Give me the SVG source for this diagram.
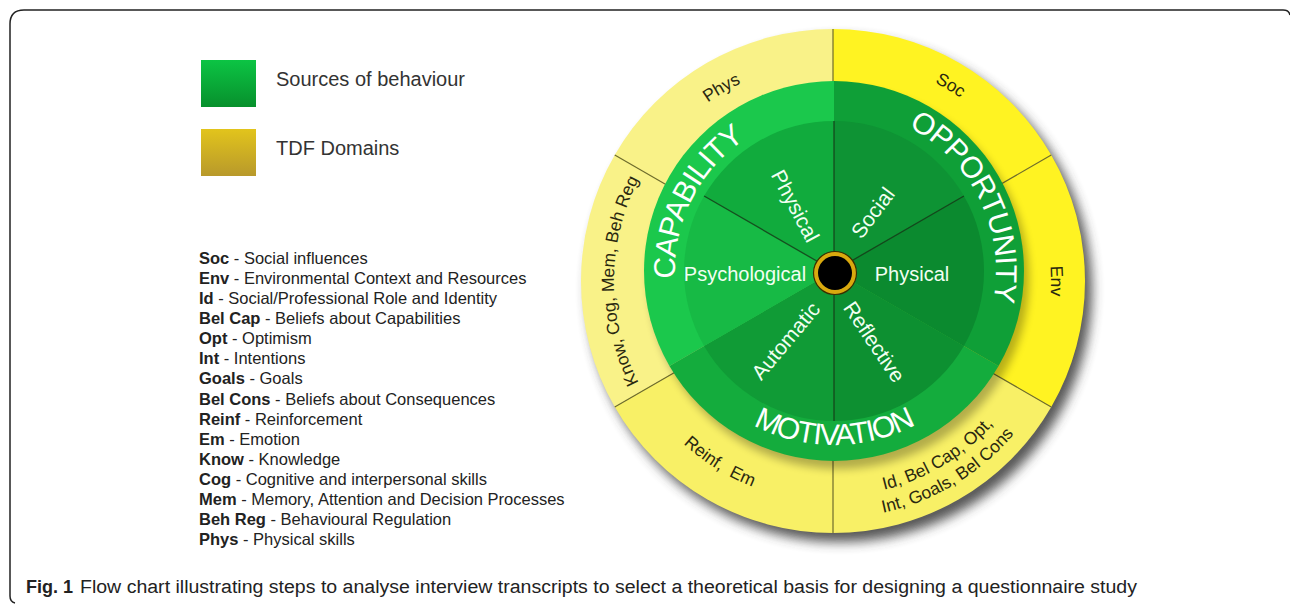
<svg xmlns="http://www.w3.org/2000/svg" width="1290" height="605" viewBox="0 0 1290 605">
<defs>
<style>
.leg{font-family:"Liberation Sans",Arial,sans-serif;font-size:16.5px;fill:#222}
.b{font-weight:bold}
.lg{font-family:"Liberation Sans",Arial,sans-serif;font-size:20px;fill:#333}
.big{font-family:"Liberation Sans",Arial,sans-serif;font-size:30px;fill:#fff}
.in{font-family:"Liberation Sans",Arial,sans-serif;font-size:20px;fill:#f2fff2}
.inr{font-family:"Liberation Sans",Arial,sans-serif;font-size:21px;fill:#f2fff2}
.ylab{font-family:"Liberation Sans",Arial,sans-serif;font-size:17.5px;fill:#2a2810}
.ydiv{stroke:#6e6c2c;stroke-width:1.2}
.gdiv{stroke:#173517;stroke-width:1.3;stroke-opacity:0.8}
.cap{font-family:"Liberation Sans",Arial,sans-serif;font-size:18px;fill:#222}
</style>
<filter id="blur" x="-20%" y="-20%" width="140%" height="140%"><feGaussianBlur stdDeviation="6"/></filter>
<filter id="blur2" x="-20%" y="-20%" width="140%" height="140%"><feGaussianBlur stdDeviation="4"/></filter>
<linearGradient id="gGreen" x1="0" y1="0" x2="0" y2="1"><stop offset="0" stop-color="#0CC444"/><stop offset="1" stop-color="#07902C"/></linearGradient>
<linearGradient id="gGold" x1="0" y1="0" x2="0" y2="1"><stop offset="0" stop-color="#E2C41C"/><stop offset="1" stop-color="#B8992B"/></linearGradient>
<path id="pCap" d="M701.4,358.75 A159,159 0 0 1 824.3,112.3"/>
<path id="pOpp" d="M845.3,109.4 A162,162 0 0 1 968.3,361.6"/>
<path id="pMot" d="M683.3,358 A174,174 0 0 0 984.7,358"/>
<path id="pPhys" d="M615,281 A218,218 0 0 1 942,92.2"/>
<path id="pSoc" d="M724.9,86 A223,223 0 0 1 1056,284.9"/>
<path id="pEnv" d="M942,92.2 A218,218 0 0 1 942,469.8"/>
<path id="pKnow" d="M723.5,470.7 A219,219 0 0 1 723.5,91.3"/>
<path id="pReinf" d="M612.1,273.3 A221,221 0 0 0 936.8,476.1"/>
<path id="pId1" d="M728.8,469 A215,215 0 0 0 1048,277.2"/>
<path id="pId2" d="M718.1,488.3 A237,237 0 0 0 1070,276.9"/>
</defs>
<rect width="1290" height="605" fill="#fff"/>
<path d="M1290,15 Q1289,10 1283,10 L24,10 Q10,10 10,24 L10,596 Q10,602 15,603" fill="none" stroke="#222" stroke-width="1.5"/>

<g id="legend">
<rect x="201" y="60" width="55" height="47" fill="url(#gGreen)"/>
<text class="lg" x="276" y="86">Sources of behaviour</text>
<rect x="201" y="129" width="55" height="47" fill="url(#gGold)"/>
<text class="lg" x="276" y="155">TDF Domains</text>
<g class="leg">
<text x="199" y="264"><tspan class="b">Soc</tspan> - Social influences</text>
<text x="199" y="284.1"><tspan class="b">Env</tspan> - Environmental Context and Resources</text>
<text x="199" y="304.1"><tspan class="b">Id</tspan> - Social/Professional Role and Identity</text>
<text x="199" y="324.2"><tspan class="b">Bel Cap</tspan> - Beliefs about Capabilities</text>
<text x="199" y="344.3"><tspan class="b">Opt</tspan> - Optimism</text>
<text x="199" y="364.4"><tspan class="b">Int</tspan> - Intentions</text>
<text x="199" y="384.4"><tspan class="b">Goals</tspan> - Goals</text>
<text x="199" y="404.5"><tspan class="b">Bel Cons</tspan> - Beliefs about Consequences</text>
<text x="199" y="424.6"><tspan class="b">Reinf</tspan> - Reinforcement</text>
<text x="199" y="444.6"><tspan class="b">Em</tspan> - Emotion</text>
<text x="199" y="464.7"><tspan class="b">Know</tspan> - Knowledge</text>
<text x="199" y="484.8"><tspan class="b">Cog</tspan> - Cognitive and interpersonal skills</text>
<text x="199" y="504.8"><tspan class="b">Mem</tspan> - Memory, Attention and Decision Processes</text>
<text x="199" y="524.9"><tspan class="b">Beh Reg</tspan> - Behavioural Regulation</text>
<text x="199" y="545"><tspan class="b">Phys</tspan> - Physical skills</text>
</g>
</g>

<g id="wheel">
<circle cx="840" cy="290" r="252" fill="#3a3a3a" opacity="0.85" filter="url(#blur)"/>
<g id="tdf-ring">
<path id="ring-opp" d="M833,281 L833,29 A252,252 0 0 1 1051.24,407 Z" fill="#FFF322"/>
<path id="ring-mot" d="M833,281 L1051.24,407 A252,252 0 0 1 614.76,407 Z" fill="#F8F066"/>
<path id="ring-cap" d="M833,281 L614.76,407 A252,252 0 0 1 833,29 Z" fill="#F9F288"/>
</g>
<g id="connectors">
<line class="ydiv" x1="833" y1="111" x2="833" y2="29"/>
<line class="ydiv" x1="980.22" y1="196" x2="1051.24" y2="155"/>
<line class="ydiv" x1="980.22" y1="366" x2="1051.24" y2="407"/>
<line class="ydiv" x1="833" y1="451" x2="833" y2="533"/>
<line class="ydiv" x1="685.78" y1="366" x2="614.76" y2="407"/>
<line class="ydiv" x1="685.78" y1="196" x2="614.76" y2="155"/>
</g>
<circle cx="839" cy="279" r="190" fill="#000" opacity="0.28" filter="url(#blur2)"/>
<g id="com-ring">
<path id="opportunity" d="M834,271 L834,81 A190,190 0 0 1 998.54,366 Z" fill="#0F9F37"/>
<path id="motivation" d="M834,271 L998.54,366 A190,190 0 0 1 669.46,366 Z" fill="#14AC3D"/>
<path id="capability" d="M834,271 L669.46,366 A190,190 0 0 1 834,81 Z" fill="#1BC84C"/>
</g>
<g id="com-inner">
<path id="social" d="M834,271 L834,121 A150,150 0 0 1 963.9,196 Z" fill="#0E9334"/>
<path id="physical-opp" d="M834,271 L963.9,196 A150,150 0 0 1 963.9,346 Z" fill="#0B8A2F"/>
<path id="reflective" d="M834,271 L963.9,346 A150,150 0 0 1 834,421 Z" fill="#0D9031"/>
<path id="automatic" d="M834,271 L834,421 A150,150 0 0 1 704.1,346 Z" fill="#109B36"/>
<path id="psychological" d="M834,271 L704.1,346 A150,150 0 0 1 704.1,196 Z" fill="#17BA45"/>
<path id="physical-cap" d="M834,271 L704.1,196 A150,150 0 0 1 834,121 Z" fill="#11AB3D"/>
</g>
<g id="inner-lines">
<line class="gdiv" x1="834" y1="271" x2="704.1" y2="196"/>
<line class="gdiv" x1="834" y1="271" x2="834" y2="121"/>
<line class="gdiv" x1="834" y1="271" x2="963.9" y2="196"/>
<line class="gdiv" x1="834" y1="271" x2="834" y2="421"/>
</g>
<g id="hub">
<circle cx="835" cy="273" r="21.5" fill="#D9A90E" stroke="#3a3000" stroke-width="1.2"/>
<circle cx="835" cy="273" r="17" fill="#000"/>
</g>
<g id="com-labels">
<text class="big" letter-spacing="-0.9"><textPath href="#pCap" startOffset="50%" text-anchor="middle">CAPABILITY</textPath></text>
<text class="big" letter-spacing="-0.8"><textPath href="#pOpp" startOffset="50%" text-anchor="middle">OPPORTUNITY</textPath></text>
<text class="big" letter-spacing="-1.4"><textPath href="#pMot" startOffset="50%" text-anchor="middle">MOTIVATION</textPath></text>
<text class="in" x="745" y="281" text-anchor="middle">Psychological</text>
<text class="in" x="912" y="281" text-anchor="middle">Physical</text>
<text class="inr" transform="translate(795,206) rotate(62)" x="0" y="7" text-anchor="middle">Physical</text>
<text class="inr" transform="translate(873,213) rotate(-53)" x="0" y="7" text-anchor="middle">Social</text>
<text class="inr" transform="translate(786,341) rotate(-50)" x="0" y="7" text-anchor="middle">Automatic</text>
<text class="inr" transform="translate(874,342) rotate(56)" x="0" y="7" text-anchor="middle">Reflective</text>
</g>
<g id="tdf-labels" class="ylab">
<text><textPath href="#pPhys" startOffset="50%" text-anchor="middle">Phys</textPath></text>
<text><textPath href="#pSoc" startOffset="50%" text-anchor="middle">Soc</textPath></text>
<text><textPath href="#pEnv" startOffset="50%" text-anchor="middle">Env</textPath></text>
<text><textPath href="#pKnow" startOffset="50%" text-anchor="middle">Know, Cog, Mem, Beh Reg</textPath></text>
<text xml:space="preserve"><textPath href="#pReinf" startOffset="50%" text-anchor="middle">Reinf,  Em</textPath></text>
<text><textPath href="#pId1" startOffset="50%" text-anchor="middle">Id, Bel Cap, Opt,</textPath></text>
<text><textPath href="#pId2" startOffset="50%" text-anchor="middle">Int, Goals, Bel Cons</textPath></text>
</g>
</g>

<g id="caption">
<text class="cap b" x="26" y="593" fill="#111">Fig. 1</text>
<text class="cap" x="80" y="593" textLength="1057" lengthAdjust="spacingAndGlyphs">Flow chart illustrating steps to analyse interview transcripts to select a theoretical basis for designing a questionnaire study</text>
</g>
</svg>
